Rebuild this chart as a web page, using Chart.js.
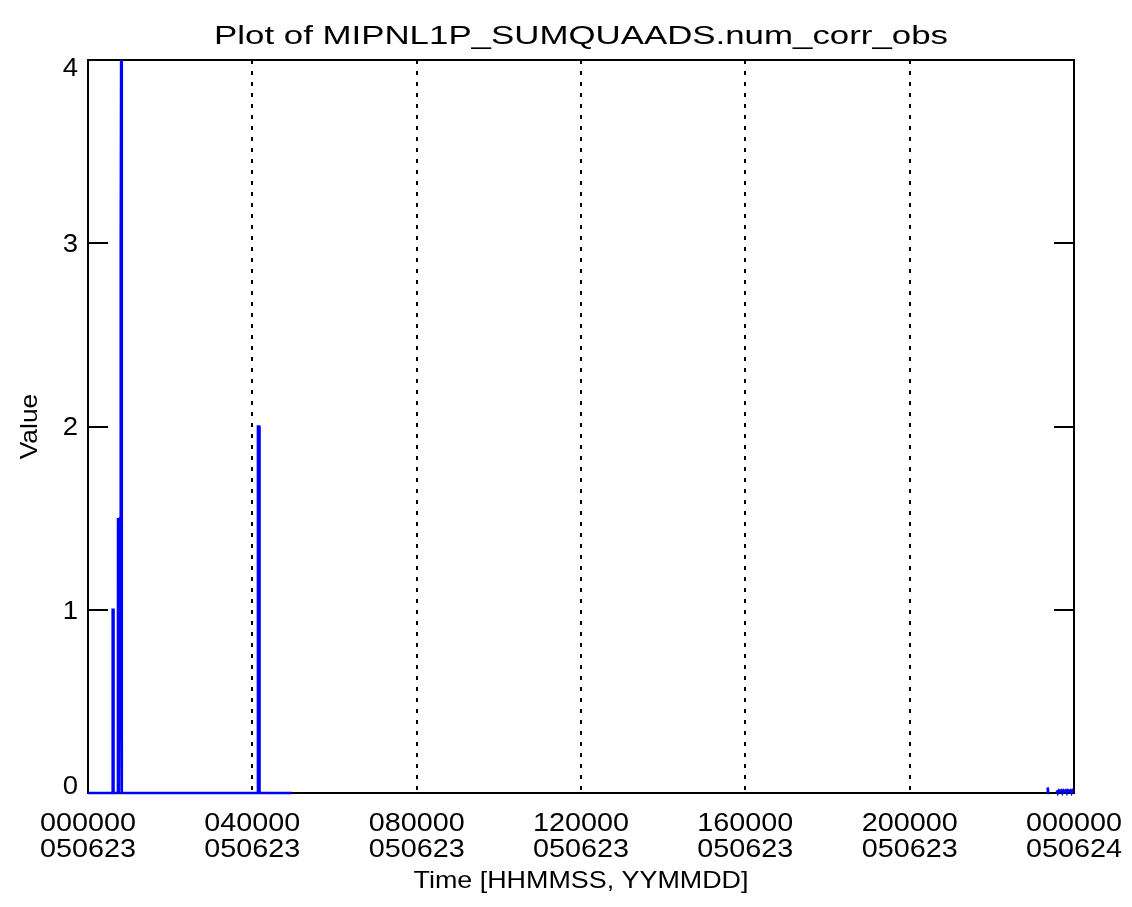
<!DOCTYPE html>
<html lang="en">
<head>
  <meta charset="UTF-8" />
  <title>MIPNL1P_SUMQUAADS.num_corr_obs</title>
  <script src="https://cdn.jsdelivr.net/npm/chart.js"></script>
  <style>
    html, body {
      margin: 0;
      background: #fff;
    }

    .chart-box {
      position: relative;
      width: 1132px;
      height: 907px;
    }
  </style>
</head>
<body>
  <div class="chart-box">
    <canvas id="obsChart"></canvas>
  </div>

  <script>
    // seconds since 000000 on 050623 and the number of corrected observations
    // null marks the hole in the record between the two passes
    const timeSec = [
      0, 2150, 2160, 2230, 2240,
      2620, 2630, 2720, 2810, 2850, 2880, 2900, 2960, 2970,
      8000, 14880, 14890, 15000, 15010, 15030, 15060, 17840,
      17900,
      84050, 84100, 84150,
      84160,
      84890, 84980, 85080, 85180, 85280, 85380, 85480, 85580, 85680, 85780,
      85880, 85980, 86080, 86180, 86280, 86400
    ];
    const numCorrObs = [
      0, 0, 1, 1, 0,
      0, 1.5, 0, 1.5, 3, 3, 4, 4, 0,
      0, 0, 2, 2, 0, 1, 0, 0,
      null,
      0, 0.03, 0,
      null,
      0.015, 0, 0.015, 0.01, 0.015, 0, 0.015, 0.01, 0.015, 0,
      0.015, 0.01, 0.015, 0, 0.015, 0.01
    ];

    const xTickTimes = ['000000', '040000', '080000', '120000', '160000', '200000', '000000'];
    const xTickDates = ['050623', '050623', '050623', '050623', '050623', '050623', '050624'];
    const yTickLabels = ['0', '1', '2', '3', '4'];

    const titleText = 'Plot of MIPNL1P_SUMQUAADS.num_corr_obs';
    const xTitle = 'Time [HHMMSS, YYMMDD]';
    const yTitle = 'Value';

    const points = timeSec.map((t, i) => ({ x: t, y: numCorrObs[i] }));

    // the plot labels are a wide stroke font, so stretch them sideways
    function wideText(ctx, txt, x, y, size, sx, align) {
      ctx.save();
      ctx.font = size + 'px "Liberation Sans", Arial, sans-serif';
      ctx.fillStyle = '#000';
      ctx.textBaseline = 'middle';
      ctx.textAlign = align;
      ctx.translate(x, y);
      ctx.scale(sx, 1);
      ctx.fillText(txt, 0, 0);
      ctx.restore();
    }

    const framePlugin = {
      id: 'frame',
      beforeDatasetsDraw(chart) {
        const { ctx, chartArea: a } = chart;
        const yScale = chart.scales.y;
        ctx.save();
        ctx.strokeStyle = '#000';
        ctx.lineWidth = 2;
        ctx.strokeRect(a.left, a.top, a.right - a.left, a.bottom - a.top);
        // inward tick marks on both sides
        ctx.beginPath();
        yScale.ticks.forEach(t => {
          const py = Math.round(yScale.getPixelForValue(t.value));
          ctx.moveTo(a.left, py);
          ctx.lineTo(a.left + 20, py);
          ctx.moveTo(a.right - 20, py);
          ctx.lineTo(a.right, py);
        });
        ctx.stroke();
        ctx.restore();
      },
      afterDraw(chart) {
        const { ctx, chartArea: a } = chart;
        const xScale = chart.scales.x;
        const yScale = chart.scales.y;

        wideText(ctx, titleText, (a.left + a.right) / 2, 37, 26, 1.34, 'center');

        xScale.ticks.forEach((t, i) => {
          const px = xScale.getPixelForValue(t.value);
          wideText(ctx, xTickTimes[i], px, 824, 25, 1.15, 'center');
          wideText(ctx, xTickDates[i], px, 850, 25, 1.15, 'center');
        });

        yScale.ticks.forEach((t, i) => {
          let py = yScale.getPixelForValue(t.value) + 2;
          py = Math.min(Math.max(py, a.top + 9), a.bottom - 6);
          wideText(ctx, yTickLabels[i], a.left - 10, py, 25, 1.1, 'right');
        });

        wideText(ctx, xTitle, (a.left + a.right) / 2, 881, 24, 1.12, 'center');

        ctx.save();
        ctx.translate(30, (a.top + a.bottom) / 2);
        ctx.rotate(-Math.PI / 2);
        wideText(ctx, yTitle, 0, 0, 24, 1.1, 'center');
        ctx.restore();
      }
    };

    const ctx = document.getElementById('obsChart').getContext('2d');
    const obsChart = new Chart(ctx, {
      type: 'line',
      data: {
        datasets: [{
          label: 'num_corr_obs',
          data: points,
          borderColor: '#0000ff',
          borderWidth: 2.5,
          pointRadius: 0,
          tension: 0,
          spanGaps: false,
          clip: false
        }]
      },
      options: {
        responsive: true,
        maintainAspectRatio: false,
        animation: false,
        layout: {
          padding: { left: 88, right: 58, top: 60, bottom: 114 }
        },
        plugins: {
          legend: { display: false },
          title: { display: false },
          tooltip: { enabled: false }
        },
        scales: {
          x: {
            type: 'linear',
            min: 0,
            max: 86400,
            ticks: { display: false, stepSize: 14400 },
            grid: {
              drawTicks: false,
              lineWidth: 2,
              color: c => (c.tick && (c.tick.value === 0 || c.tick.value === 86400)) ? 'rgba(0,0,0,0)' : '#000'
            },
            border: { display: false, dash: [4, 7] }
          },
          y: {
            min: 0,
            max: 4,
            ticks: { display: false, stepSize: 1 },
            grid: { display: false, drawTicks: false },
            border: { display: false }
          }
        }
      },
      plugins: [framePlugin]
    });
  </script>
</body>
</html>
